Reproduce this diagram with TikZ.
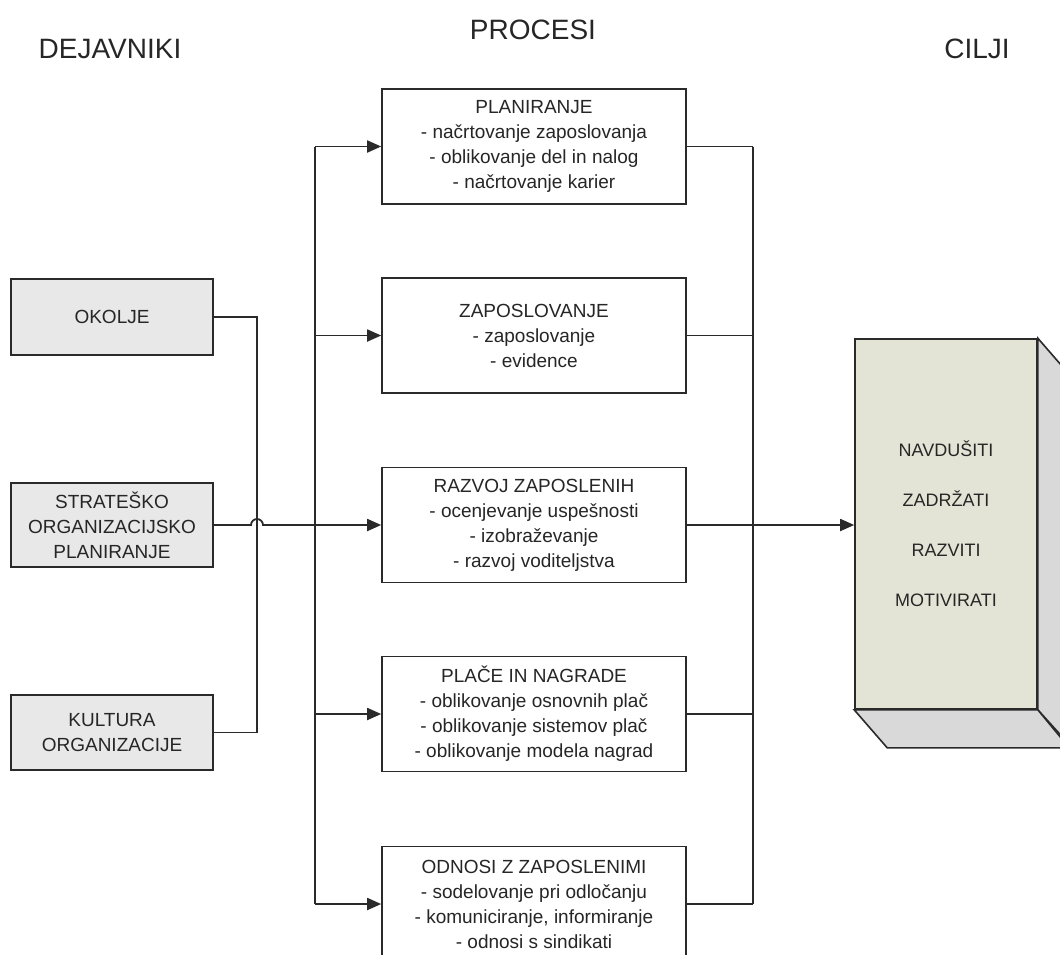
\documentclass[tikz,border=0pt]{standalone}
\usepackage{fontspec}
\setmainfont{Liberation Sans}
\usetikzlibrary{arrows.meta}
\definecolor{siva}{HTML}{E8E8E8}
\definecolor{ciljbarva}{HTML}{E4E4D6}
\definecolor{stran}{HTML}{D9D9D9}
\definecolor{crta}{HTML}{2A2A2A}

\begin{document}
\begin{tikzpicture}[x=1pt, y=-1pt,
  every node/.style = {align=center, font=\fontsize{19}{25}\selectfont, text=black!85},
  naslov/.style = {font=\fontsize{28}{30}\selectfont},
  dejavnik/.style = {draw=crta, line width=1.6pt, fill=siva, minimum width=202pt},
  proces/.style = {draw=crta, line width=1.6pt, fill=white, minimum width=304pt, minimum height=115pt},
  cilj/.style = {draw=crta, line width=1.6pt, fill=ciljbarva, minimum width=182pt, minimum height=370pt,
    font=\fontsize{18}{50}\selectfont},
  povezava/.style = {draw=crta, line width=1.8pt},
  puscica/.style = {povezava, -{Triangle[length=14pt, width=12pt]}}]
\clip (0,0) rectangle (1060,954);

\node[naslov] (hdejavniki) at (110,49) {DEJAVNIKI};
\node[naslov] (hprocesi) at (533,30) {PROCESI};
\node[naslov] (hcilji) at (977,49) {CILJI};

\node[dejavnik, minimum height=76pt] (okolje) at (112,317) {OKOLJE};
\node[dejavnik, minimum height=84pt] (strat) at (112,525) {STRATEŠKO\\ORGANIZACIJSKO\\PLANIRANJE};
\node[dejavnik, minimum height=75pt] (kultura) at (112,732.5) {KULTURA\\ORGANIZACIJE};

\node[proces] (planiranje) at (534,146.5) {PLANIRANJE\\- načrtovanje zaposlovanja\\- oblikovanje del in nalog\\- načrtovanje karier};
\node[proces] (zaposlovanje) at (534,335.5) {ZAPOSLOVANJE\\- zaposlovanje\\- evidence};
\node[proces] (razvoj) at (534,525) {RAZVOJ ZAPOSLENIH\\- ocenjevanje uspešnosti\\- izobraževanje\\- razvoj voditeljstva};
\node[proces] (place) at (534,714) {PLAČE IN NAGRADE\\- oblikovanje osnovnih plač\\- oblikovanje sistemov plač\\- oblikovanje modela nagrad};
\node[proces] (odnosi) at (534,904) {ODNOSI Z ZAPOSLENIMI\\- sodelovanje pri odločanju\\- komuniciranje, informiranje\\- odnosi s sindikati};

\node[cilj] (cilji) at (946,524) {NAVDUŠITI\\ZADRŽATI\\RAZVITI\\MOTIVIRATI};
\draw[crta, line width=1.6pt, fill=stran] (cilji.north east) -- ++(33,38) -- ++(0,370) -- (cilji.south east) -- cycle;
\draw[crta, line width=1.6pt, fill=stran] (cilji.south west) -- ++(33,38) -- ++(182,0) -- (cilji.south east) -- cycle;

\coordinate (zbir) at (257,0);
\coordinate (vhod) at (315,0);
\coordinate (izhod) at (753,0);

\draw[povezava] (okolje.east) -- (okolje.east -| zbir) -- (kultura.east -| zbir) -- (kultura.east);
\draw[puscica] (strat.east) -- (251,525) arc[start angle=180, end angle=360, radius=6] -- (razvoj.west);

\draw[povezava] (planiranje.west -| vhod) -- (odnosi.west -| vhod);
\draw[puscica] (planiranje.west -| vhod) -- (planiranje.west);
\draw[puscica] (zaposlovanje.west -| vhod) -- (zaposlovanje.west);
\draw[puscica] (place.west -| vhod) -- (place.west);
\draw[puscica] (odnosi.west -| vhod) -- (odnosi.west);

\draw[povezava] (planiranje.east -| izhod) -- (odnosi.east -| izhod);
\draw[povezava] (planiranje.east) -- (planiranje.east -| izhod);
\draw[povezava] (zaposlovanje.east) -- (zaposlovanje.east -| izhod);
\draw[povezava] (place.east) -- (place.east -| izhod);
\draw[povezava] (odnosi.east) -- (odnosi.east -| izhod);
\draw[puscica] (razvoj.east) -- (razvoj.east -| cilji.west);
\end{tikzpicture}
\end{document}
